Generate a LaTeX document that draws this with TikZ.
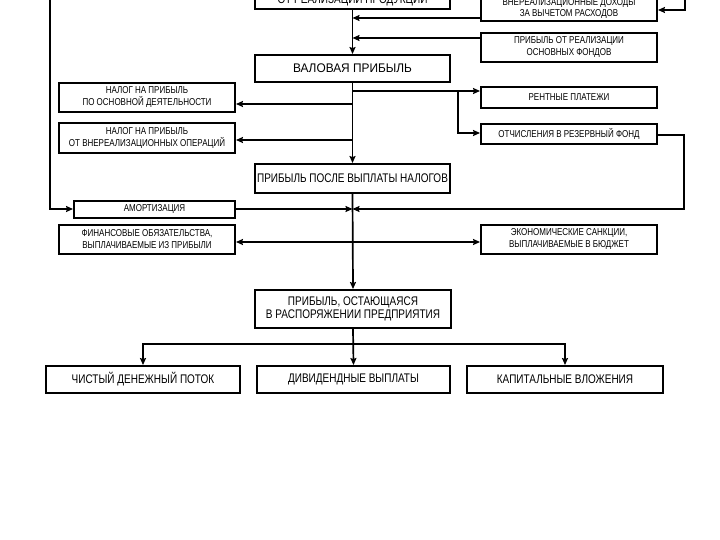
\documentclass[tikz,border=0pt]{standalone}
\usepackage{fontspec}
\setmainfont{Liberation Sans}[FakeStretch=0.8]
\newfontfamily\wideff{Liberation Sans}[FakeStretch=0.95]
\usetikzlibrary{arrows.meta}
\begin{document}
\begin{tikzpicture}[x=1pt,y=-1pt,
  box/.style={draw, line width=1.9pt, inner sep=0pt, align=center},
  sm/.style={font=\fontsize{10}{12}\selectfont},
  bg/.style={font=\fontsize{12.5}{13.5}\selectfont},
  txt/.style={inner sep=0pt, anchor=base},
  conn/.style={line width=1.7pt},
  arr/.style={conn, -{Stealth[length=7pt,width=6pt,inset=1pt]}}]
\useasboundingbox (0,0) rectangle (720,540);
\clip (0,0) rectangle (720,540);
% main column boxes
\node[box, minimum width=195pt, minimum height=40pt] (A) at (352.5,-11) {};
\node[txt, bg] (At) at (352.5,3.5) {ОТ РЕАЛИЗАЦИИ ПРОДУКЦИИ};
\node[box, bg, minimum width=195pt, minimum height=27pt] (V) at (352.5,68.5) {\wideff ВАЛОВАЯ ПРИБЫЛЬ};
\node[box, bg, minimum width=195pt, minimum height=29pt] (P) at (352.5,178.5) {ПРИБЫЛЬ ПОСЛЕ ВЫПЛАТЫ НАЛОГОВ};
\node[box, bg, minimum width=196pt, minimum height=38pt] (Q) at (353,309) {ПРИБЫЛЬ, ОСТАЮЩАЯСЯ\\В РАСПОРЯЖЕНИИ ПРЕДПРИЯТИЯ};
% right boxes
\node[box, minimum width=176pt, minimum height=40pt] (B) at (569,1) {};
\node[txt, sm] (Bt1) at (569,5.5) {ВНЕРЕАЛИЗАЦИОННЫЕ ДОХОДЫ};
\node[txt, sm] (Bt2) at (569,17) {ЗА ВЫЧЕТОМ РАСХОДОВ};
\node[box, sm, minimum width=176pt, minimum height=29pt] (C) at (569,47.5) {ПРИБЫЛЬ ОТ РЕАЛИЗАЦИИ\\ОСНОВНЫХ ФОНДОВ};
\node[box, sm, minimum width=176pt, minimum height=21pt] (R) at (569,97.5) {РЕНТНЫЕ ПЛАТЕЖИ};
\node[box, sm, minimum width=176pt, minimum height=20pt] (O) at (569,134) {ОТЧИСЛЕНИЯ В РЕЗЕРВНЫЙ ФОНД};
\node[box, sm, minimum width=176pt, minimum height=29pt] (E) at (569,239.5) {ЭКОНОМИЧЕСКИЕ САНКЦИИ,\\ВЫПЛАЧИВАЕМЫЕ В БЮДЖЕТ};
% left boxes
\node[box, sm, minimum width=176pt, minimum height=29pt] (N1) at (147,97.5) {НАЛОГ НА ПРИБЫЛЬ\\ПО ОСНОВНОЙ ДЕЯТЕЛЬНОСТИ};
\node[box, sm, minimum width=176pt, minimum height=30pt] (N2) at (147,138) {НАЛОГ НА ПРИБЫЛЬ\\ОТ ВНЕРЕАЛИЗАЦИОННЫХ ОПЕРАЦИЙ};
\node[box, sm, minimum width=161pt, minimum height=17pt] (AM) at (154.5,209.5) {АМОРТИЗАЦИЯ};
\node[box, sm, minimum width=176pt, minimum height=29pt] (F) at (147,239.5) {ФИНАНСОВЫЕ ОБЯЗАТЕЛЬСТВА,\\ВЫПЛАЧИВАЕМЫЕ ИЗ ПРИБЫЛИ};
% bottom boxes
\node[box, bg, minimum width=194pt, minimum height=27pt] (D1) at (143,379.5) {ЧИСТЫЙ ДЕНЕЖНЫЙ ПОТОК};
\node[box, bg, minimum width=193pt, minimum height=27pt] (D2) at (353.5,379.5) {ДИВИДЕНДНЫЕ ВЫПЛАТЫ};
\node[box, bg, minimum width=196pt, minimum height=27pt] (D3) at (565,379.5) {КАПИТАЛЬНЫЕ ВЛОЖЕНИЯ};
% connectors: main column
\draw[arr] (A.south) -- (V.north);
\draw[arr] (B.west |- 0,18) -- (A.south |- 0,18);
\draw[arr] (C.west |- 0,38) -- (A.south |- 0,38);
\draw[arr] (V.south) -- (P.north);
\draw[arr] (V.south |- 0,104) -- (N1.east |- 0,104);
\draw[arr] (V.south |- 0,140) -- (N2.east |- 0,140);
\draw[arr] (V.south |- 0,91) -- (R.west |- 0,91);
\coordinate (br) at (458,91);
\draw[arr] (br) |- (O.west |- 0,133);
\coordinate (rc1) at (684,135);
\coordinate (rc2) at (684,209);
\draw[arr] (O.east |- rc1) -- (rc1) -- (rc2) -- (P.south |- rc2);
\coordinate (lt) at (50,-5);
\draw[arr] (lt) |- (AM.west |- 0,209);
\draw[arr] (AM.east |- 0,209) -- (P.south |- 0,209);
\coordinate (rt) at (685,-5);
\draw[arr] (rt) |- (B.east |- 0,10);
\draw[arr] (P.south) -- (Q.north);
\draw[arr] (P.south |- 0,242) -- (F.east |- 0,242);
\draw[arr] (P.south |- 0,242) -- (E.west |- 0,242);
\coordinate (hb) at (353,344);
\draw[arr] (Q.south) -- (D2.north);
\draw[arr] (hb) -| (D1.north);
\draw[arr] (hb) -| (D3.north);
\end{tikzpicture}
\end{document}
